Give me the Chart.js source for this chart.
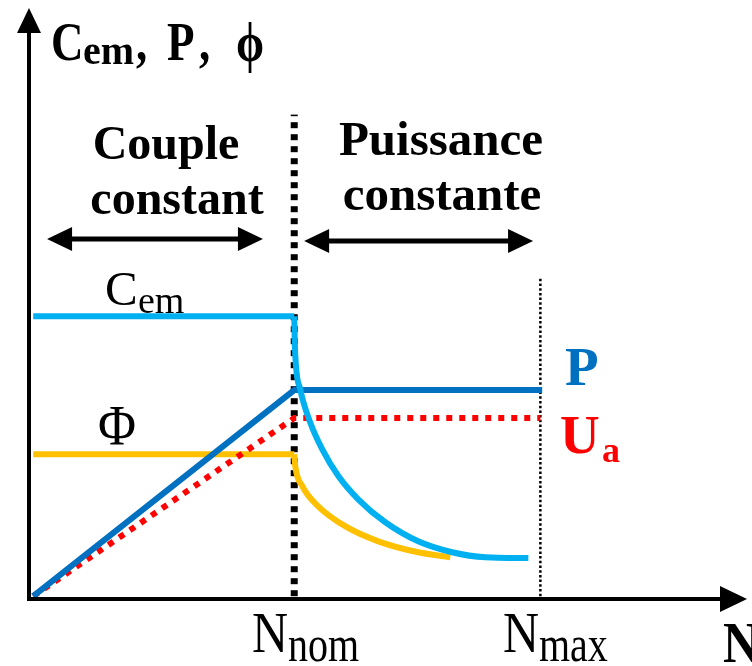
<!DOCTYPE html>
<html>
<head>
<meta charset="utf-8">
<script src="https://cdn.jsdelivr.net/npm/chart.js@4"></script>
<style>
  html, body { margin: 0; padding: 0; background: #ffffff; }
  canvas { display: block; }
</style>
</head>
<body>
<canvas id="speedChart" width="752" height="666"></canvas>
<script>
// speed in units of N_nom, values normalised to C_em at N_nom
const cemX = [0, 1, 1.003, 1.023, 1.061, 1.107, 1.169, 1.245, 1.349, 1.475, 1.605, 1.732, 1.897];
const cemY = [1, 1, 0.88, 0.739, 0.621, 0.525, 0.429, 0.346, 0.264, 0.196, 0.157, 0.139, 0.136];
const phiX = [0, 1, 1.004, 1.031, 1.092, 1.195, 1.322, 1.475, 1.598];
const phiY = [0.507, 0.507, 0.464, 0.393, 0.321, 0.25, 0.196, 0.157, 0.139];
const pX = [0, 1, 1.95];
const pY = [0, 0.736, 0.736];
const uaX = [0, 1, 1.943];
const uaY = [0, 0.636, 0.636];
const nNom = 1;
const nMax = 1.943;
const markerTop = [1.72, 1.14];   // top of the N_nom / N_max lines
const zoneArrowY = 1.272;
const zoneLeft = [0.053, 0.88];   // "couple constant" arrow
const zoneRight = [1.038, 1.915]; // "puissance constante" arrow

function pts(xs, ys, from, to) {
  let out = [];
  for (let i = from; i < to; i++) out.push({x: xs[i], y: ys[i]});
  return out;
}

const serif = '"Liberation Serif", "Times New Roman", serif';

function txt(ctx, s, x, y, font, color, align, sy) {
  ctx.save();
  ctx.translate(x, y);
  ctx.scale(1, sy || 1);
  ctx.font = font;
  ctx.fillStyle = color || '#000';
  ctx.textAlign = align || 'left';
  ctx.textBaseline = 'alphabetic';
  ctx.fillText(s, 0, 0);
  ctx.restore();
}

function doubleArrow(ctx, x1, x2, y) {
  ctx.save();
  ctx.strokeStyle = '#000';
  ctx.fillStyle = '#000';
  ctx.lineWidth = 5;
  ctx.beginPath();
  ctx.moveTo(x1 + 20, y);
  ctx.lineTo(x2 - 20, y);
  ctx.stroke();
  ctx.beginPath();
  ctx.moveTo(x1, y);
  ctx.lineTo(x1 + 25, y - 12);
  ctx.lineTo(x1 + 25, y + 12);
  ctx.closePath();
  ctx.fill();
  ctx.beginPath();
  ctx.moveTo(x2, y);
  ctx.lineTo(x2 - 25, y - 12);
  ctx.lineTo(x2 - 25, y + 12);
  ctx.closePath();
  ctx.fill();
  ctx.restore();
}

const decorations = {
  id: 'decorations',
  beforeDraw(chart) {
    const ctx = chart.ctx;
    ctx.save();
    ctx.fillStyle = '#ffffff';
    ctx.fillRect(0, 0, chart.width, chart.height);
    ctx.restore();
  },
  afterDraw(chart) {
    const ctx = chart.ctx;
    const area = chart.chartArea;
    const sx = chart.scales.x, sy = chart.scales.y;
    const ax = area.left + 1, ay = area.bottom;

    // axes with arrow heads
    ctx.save();
    ctx.strokeStyle = '#000';
    ctx.fillStyle = '#000';
    ctx.lineWidth = 4;
    ctx.beginPath();
    ctx.moveTo(ax, ay + 2);
    ctx.lineTo(ax, area.top + 20);
    ctx.moveTo(ax - 2, ay);
    ctx.lineTo(area.right - 22, ay);
    ctx.stroke();
    ctx.beginPath();
    ctx.moveTo(ax, area.top);
    ctx.lineTo(ax - 12, area.top + 25);
    ctx.lineTo(ax + 12, area.top + 25);
    ctx.closePath();
    ctx.fill();
    ctx.beginPath();
    ctx.moveTo(area.right + 2, ay);
    ctx.lineTo(area.right - 25, ay - 13);
    ctx.lineTo(area.right - 25, ay + 13);
    ctx.closePath();
    ctx.fill();
    ctx.restore();

    // zone arrows
    const yA = sy.getPixelForValue(zoneArrowY);
    doubleArrow(ctx, sx.getPixelForValue(zoneLeft[0]), sx.getPixelForValue(zoneLeft[1]), yA - 1);
    doubleArrow(ctx, sx.getPixelForValue(zoneRight[0]), sx.getPixelForValue(zoneRight[1]), yA + 1);

    // title of the y axis
    txt(ctx, 'C', 51, 60, 'bold 45px ' + serif, '#000', 'left', 1.22);
    txt(ctx, 'em', 83, 64, 'bold 40px ' + serif, '#000', 'left', 1.05);
    txt(ctx, ',', 136, 60, 'bold 45px ' + serif, '#000', 'left', 1.22);
    txt(ctx, 'P', 167, 60, 'bold 45px ' + serif, '#000', 'left', 1.22);
    txt(ctx, ',', 199, 60, 'bold 45px ' + serif, '#000', 'left', 1.22);
    txt(ctx, 'ϕ', 236, 61, 'bold 45px ' + serif, '#000', 'left', 1.22);

    // zone captions
    txt(ctx, 'Couple', 166, 159, 'bold 48px ' + serif, '#000', 'center');
    txt(ctx, 'constant', 177, 214, 'bold 48px ' + serif, '#000', 'center');
    txt(ctx, 'Puissance', 441, 155, 'bold 49px ' + serif, '#000', 'center');
    txt(ctx, 'constante', 442, 210, 'bold 49px ' + serif, '#000', 'center');

    // curve labels
    txt(ctx, 'C', 105, 305, '49px ' + serif, '#000');
    txt(ctx, 'em', 138, 313, '38px ' + serif, '#000');
    txt(ctx, 'Φ', 98, 445, '52px ' + serif, '#000', 'left', 1.1);
    txt(ctx, 'P', 565, 385, 'bold 55px ' + serif, '#0070C0');
    txt(ctx, 'U', 560, 453, 'bold 55px ' + serif, '#FF0000');
    txt(ctx, 'a', 602, 462, 'bold 36px ' + serif, '#FF0000');

    // speed labels
    txt(ctx, 'N', 252, 652, '50px ' + serif, '#000', 'left', 1.12);
    txt(ctx, 'nom', 288, 661, '40px ' + serif, '#000', 'left', 1.28);
    txt(ctx, 'N', 503, 652, '50px ' + serif, '#000', 'left', 1.12);
    txt(ctx, 'max', 539, 661, '40px ' + serif, '#000', 'left', 1.28);
    txt(ctx, 'N', 723, 662, 'bold 50px ' + serif, '#000', 'left', 1.12);
  }
};

const ctx = document.getElementById('speedChart').getContext('2d');
let speedChart = new Chart(ctx, {
  type: 'line',
  data: {
    datasets: [
      {
        label: 'Nnom',
        data: [{x: nNom, y: 0}, {x: nNom, y: markerTop[0]}],
        borderColor: '#000',
        borderWidth: 7,
        borderDash: [6, 6],
        order: 10
      },
      {
        label: 'Nmax',
        data: [{x: nMax, y: 0}, {x: nMax, y: markerTop[1]}],
        borderColor: '#000',
        borderWidth: 2.5,
        borderDash: [2.5, 2.2],
        order: 10
      },
      {
        label: 'Phi',
        data: pts(phiX, phiY, 0, 2),
        borderColor: '#FFC000',
        borderWidth: 6,
        order: 5
      },
      {
        label: 'Phi defluxage',
        data: pts(phiX, phiY, 1, phiX.length),
        borderColor: '#FFC000',
        borderWidth: 6,
        cubicInterpolationMode: 'monotone',
        order: 5
      },
      {
        label: 'Ua',
        data: pts(uaX, uaY, 0, uaX.length),
        borderColor: '#FF0000',
        borderWidth: 6,
        borderDash: [6, 7],
        order: 4
      },
      {
        label: 'P',
        data: pts(pX, pY, 0, pX.length),
        borderColor: '#0070C0',
        borderWidth: 6,
        order: 3
      },
      {
        label: 'Cem',
        data: pts(cemX, cemY, 0, 2),
        borderColor: '#00B0F0',
        borderWidth: 6,
        order: 2
      },
      {
        label: 'Cem defluxage',
        data: pts(cemX, cemY, 1, cemX.length),
        borderColor: '#00B0F0',
        borderWidth: 6,
        cubicInterpolationMode: 'monotone',
        order: 2
      }
    ]
  },
  options: {
    responsive: false,
    animation: false,
    devicePixelRatio: 1,
    layout: { padding: { left: 28, right: 7, top: 8, bottom: 67 } },
    elements: {
      point: { radius: 0, hoverRadius: 0 },
      line: { tension: 0, borderCapStyle: 'butt', fill: false }
    },
    scales: {
      x: { type: 'linear', min: -0.02, max: 2.727, display: false },
      y: { type: 'linear', min: -0.01, max: 2.1007, display: false }
    },
    plugins: {
      legend: { display: false },
      tooltip: { enabled: false }
    }
  },
  plugins: [decorations]
});
</script>
</body>
</html>
